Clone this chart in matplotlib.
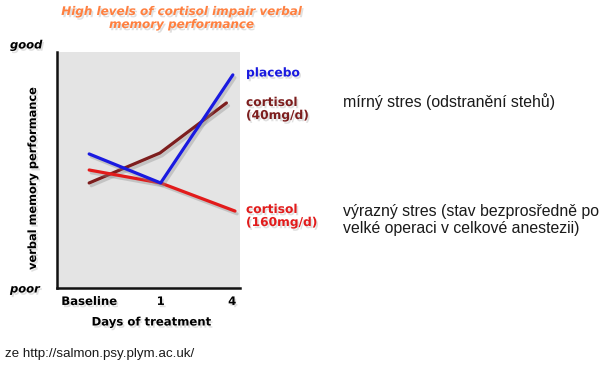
import matplotlib
matplotlib.use("Agg")
import matplotlib.pyplot as plt
import matplotlib.patheffects as pe

# ---- data ----
tick_labels = ["Baseline", "1", "4"]
tick_pos = [0, 1, 2]
placebo_x = [0, 1, 2.01]
placebo_y = [56.8, 44.5, 90.3]
cort40_x = [0, 0.99, 1.92]
cort40_y = [44.5, 57.2, 78.4]
cort160_x = [0, 1, 2.04]
cort160_y = [50.0, 44.5, 32.6]

W, H = 612, 368
fig = plt.figure(figsize=(W / 100, H / 100), dpi=100)
fig.patch.set_facecolor("white")

def fx(px):
    return px / W

def fy(py):
    return 1 - py / H

tshadow = [pe.withSimplePatchShadow(offset=(1.2, -1.6), shadow_rgbFace="#999999", alpha=0.3)]

ax = fig.add_axes([fx(57), fy(288), fx(240) - fx(57), fy(52) - fy(288)])
ax.set_facecolor("#e4e4e4")
ax.set_xlim(-0.45, 2.11)
ax.set_ylim(0, 100)
for s in ["top", "right"]:
    ax.spines[s].set_visible(False)
for s in ["left", "bottom"]:
    ax.spines[s].set_linewidth(1.8)
    ax.spines[s].set_color("#111111")
ax.set_yticks([])
ax.set_xticks(tick_pos)
ax.set_xticklabels(tick_labels, fontsize=8.4, fontweight="bold", path_effects=tshadow)
ax.tick_params(axis="x", length=0, pad=5)

shadow = [pe.SimpleLineShadow(offset=(1.5, -2), shadow_color="#888888", alpha=0.35), pe.Normal()]
ax.plot(cort40_x, cort40_y, color="#7d1e1e", lw=2.3, solid_capstyle="round", path_effects=shadow)
ax.plot(cort160_x, cort160_y, color="#e21b1b", lw=2.3, solid_capstyle="round", path_effects=shadow)
ax.plot(placebo_x, placebo_y, color="#1a1ae0", lw=2.3, solid_capstyle="round", path_effects=shadow)

fig.text(fx(181), fy(5), "High levels of cortisol impair verbal\nmemory performance",
         ha="center", va="top", fontsize=8.6, fontweight="bold", fontstyle="italic",
         color="#ff8040", linespacing=1.0, path_effects=tshadow)

fig.text(fx(10), fy(45), "good", ha="left", va="center", fontsize=8.3,
         fontweight="bold", fontstyle="italic", path_effects=tshadow)
fig.text(fx(10), fy(289), "poor", ha="left", va="center", fontsize=8.3,
         fontweight="bold", fontstyle="italic", path_effects=tshadow)
fig.text(fx(33), fy(178), "verbal memory performance", rotation=90, ha="center",
         va="center", fontsize=8.2, fontweight="bold", path_effects=tshadow)
fig.text(fx(151), fy(322), "Days of treatment", ha="center", va="center",
         fontsize=8.4, fontweight="bold", path_effects=tshadow)

fig.text(fx(246), fy(73), "placebo", ha="left", va="center", fontsize=8.8,
         fontweight="bold", color="#1a1ae0", path_effects=tshadow)
fig.text(fx(246), fy(109), "cortisol\n(40mg/d)", ha="left", va="center", fontsize=8.8,
         fontweight="bold", color="#7d1e1e", linespacing=1.0, path_effects=tshadow)
fig.text(fx(246), fy(216), "cortisol\n(160mg/d)", ha="left", va="center", fontsize=8.8,
         fontweight="bold", color="#e21b1b", linespacing=1.0, path_effects=tshadow)

fig.text(fx(343), fy(102), "mírný stres (odstranění stehů)", ha="left", va="center",
         fontsize=11.4, family="Liberation Sans", color="#1a1a1a")
fig.text(fx(343), fy(220), "výrazný stres (stav bezprosředně po\nvelké operaci v celkové anestezii)",
         ha="left", va="center", fontsize=11.4, family="Liberation Sans", color="#1a1a1a",
         linespacing=1.15)
fig.text(fx(5), fy(354), "ze http://salmon.psy.plym.ac.uk/", ha="left", va="center",
         fontsize=9.6, family="Liberation Sans", color="#1a1a1a")

fig.savefig("out.png", dpi=100, facecolor="white")
